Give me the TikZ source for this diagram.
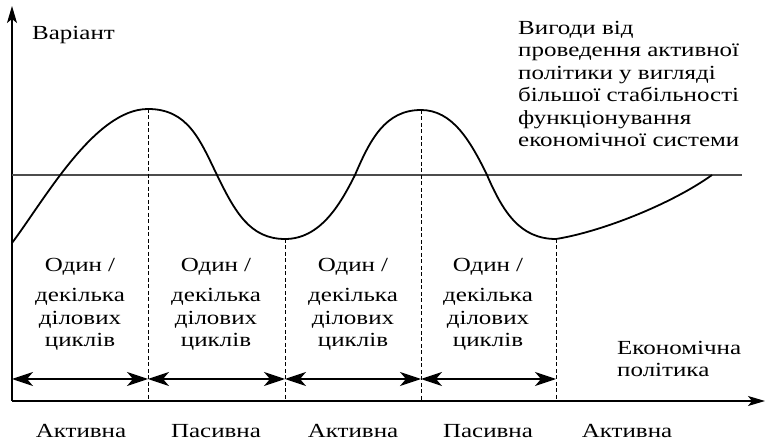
\documentclass[tikz,border=0pt]{standalone}
\usepackage{fontspec}
\setmainfont{Liberation Serif}[FakeStretch=1.25]
\usetikzlibrary{arrows.meta}
\begin{document}
\begin{tikzpicture}[x=1pt,y=-1pt,
  txt/.style={inner sep=0pt, font=\fontsize{20}{22.5}\selectfont, text=black},
  axis/.style={line width=1.2pt, -{Stealth[length=17pt,width=10pt,inset=4pt]}},
  dbl/.style={line width=1.2pt, {Stealth[length=21pt,width=14pt,inset=6pt]}-{Stealth[length=21pt,width=14pt,inset=6pt]}},
  dashv/.style={line width=1pt, dash pattern=on 4pt off 2.5pt},
  wave/.style={line width=1.8pt},
  refline/.style={line width=1.6pt, draw=black!70}]
\useasboundingbox (0,0) rectangle (766,443);
% key points
\coordinate (O) at (12,401);
\coordinate (ytop) at (12,6);
\coordinate (xend) at (765,401);
\coordinate (hl) at (12,175);
\coordinate (hr) at (742,175);
\coordinate (s) at (12,243);
\coordinate (p1) at (148,109);
\coordinate (c1) at (217,175);
\coordinate (t1) at (285,239);
\coordinate (c2) at (355,175);
\coordinate (p2) at (421,110);
\coordinate (c3) at (487,175);
\coordinate (t2) at (556,239);
\coordinate (e) at (712,175);
% arrow ends
\coordinate (a0) at (12,379);
\coordinate (a1) at (148,379);
\coordinate (a2) at (285,379);
\coordinate (a3) at (421,379);
\coordinate (a4) at (556,379);
% axes
\draw[axis] (O) -- (ytop);
\draw[axis] (O) -- (xend);
\draw[refline] (hl) -- (hr);
% curve
\draw[wave] (s) .. controls (45,199) and (95,109) .. (p1)
  .. controls (188,109) and (200,140) .. (c1)
  .. controls (235,212) and (250,239) .. (t1)
  .. controls (320,239) and (340,205) .. (c2)
  .. controls (370,140) and (385,110) .. (p2)
  .. controls (452,110) and (470,140) .. (c3)
  .. controls (503,212) and (520,239) .. (t2)
  .. controls (600,232) and (670,205) .. (e);
% dashed verticals
\draw[dashv] (p1) -- (p1 |- O);
\draw[dashv] (t1) -- (t1 |- O);
\draw[dashv] (p2) -- (p2 |- O);
\draw[dashv] (t2) -- (t2 |- O);
% double arrows
\draw[dbl] (a0) -- (a1);
\draw[dbl] (a1) -- (a2);
\draw[dbl] (a2) -- (a3);
\draw[dbl] (a3) -- (a4);
% texts
\node[txt, anchor=base west] (var) at (32,40) {Варіант};
\node[txt, anchor=north west, align=left] (ben) at (518,21) {Вигоди від\\проведення активної\\політики у вигляді\\більшої стабільності\\функціонування\\економічної системи};
\node[txt, anchor=north west, align=left] (ep) at (617,341) {Економічна\\політика};
\node[txt, anchor=north, align=center] (k1) at (80,258) {Один /\\[8pt]декілька\\ділових\\циклів};
\node[txt, anchor=north, align=center] (k2) at (216,258) {Один /\\[8pt]декілька\\ділових\\циклів};
\node[txt, anchor=north, align=center] (k3) at (353,258) {Один /\\[8pt]декілька\\ділових\\циклів};
\node[txt, anchor=north, align=center] (k4) at (488,258) {Один /\\[8pt]декілька\\ділових\\циклів};
\node[txt, anchor=base] (l1) at (81,438) {Активна};
\node[txt, anchor=base] (l2) at (216,438) {Пасивна};
\node[txt, anchor=base] (l3) at (353,438) {Активна};
\node[txt, anchor=base] (l4) at (488,438) {Пасивна};
\node[txt, anchor=base] (l5) at (627,438) {Активна};
\end{tikzpicture}
\end{document}
